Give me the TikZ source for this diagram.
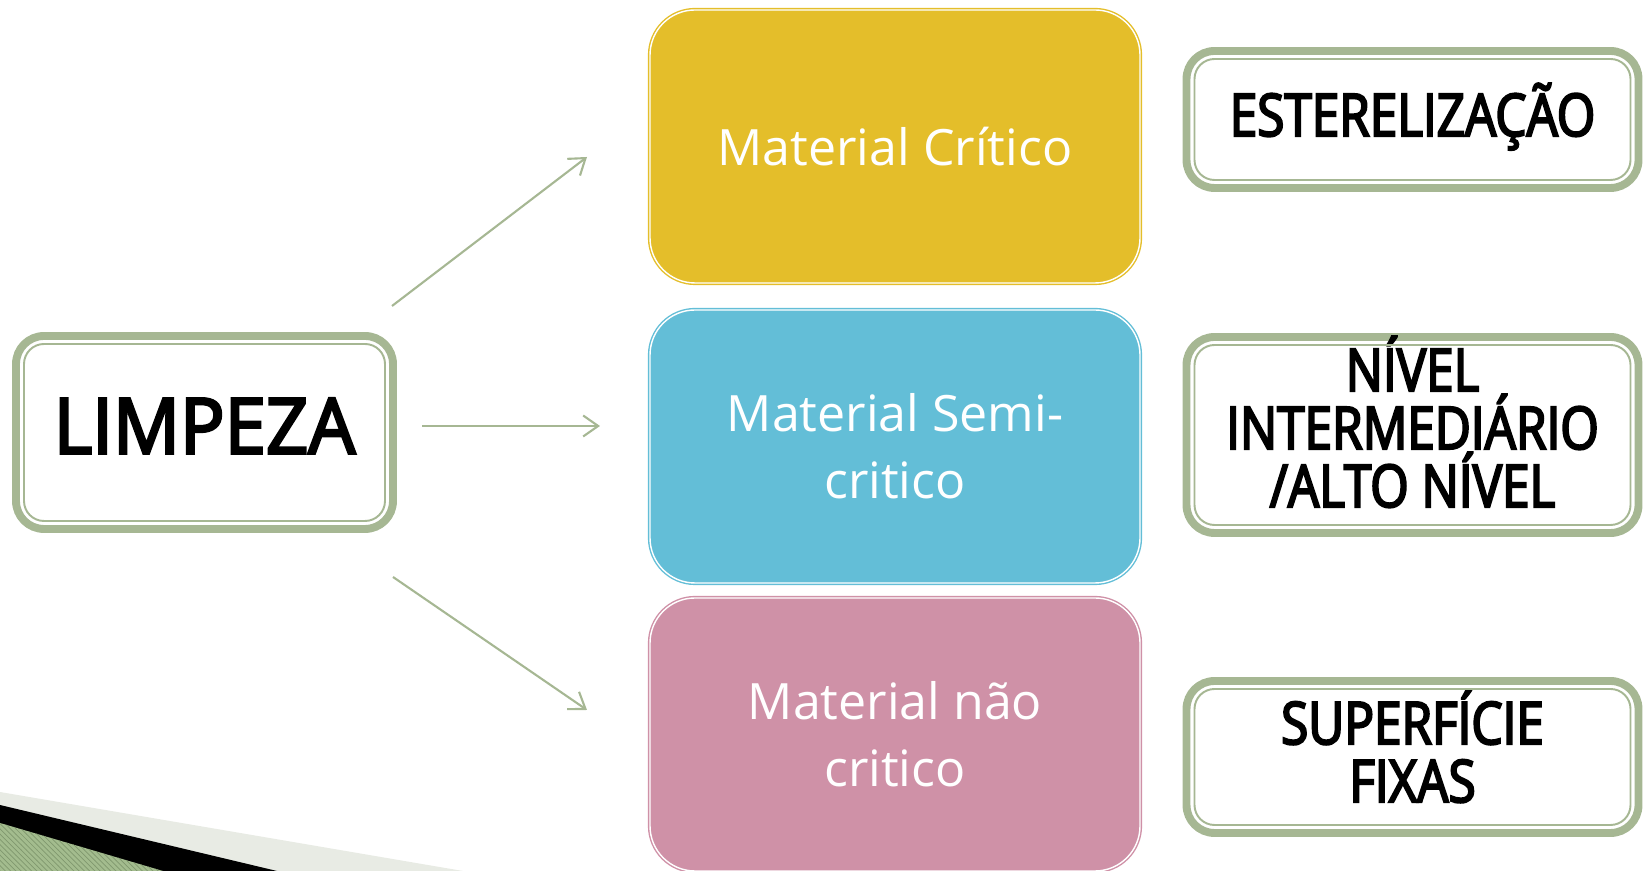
\documentclass[tikz,border=0pt]{standalone}
\usepackage{fontspec}
\usepackage{tikz}
\usetikzlibrary{calc}
\usetikzlibrary{arrows.meta}
\usetikzlibrary{patterns}

\setmainfont{Open Sans}
\newfontfamily\limpfont[FakeStretch=0.96, FakeBold=3.5]{Open Sans}
\newfontfamily\rotfont[FakeStretch=0.84, FakeBold=3.5]{Open Sans}

% linhas centradas com a linha de base da ultima fixa
\newcommand{\linhas}[2]{\raisebox{#1}[0pt][0pt]{\vbox{\baselineskip=33pt\lineskiplimit=-100pt\halign{\hfil##\hfil\cr#2\cr}}}}

\definecolor{salvia}{RGB}{166,183,147}
\definecolor{amarelo}{RGB}{228,190,42}
\definecolor{azul}{RGB}{99,190,215}
\definecolor{rosa}{RGB}{207,145,167}
\definecolor{faixa}{RGB}{232,235,228}
\definecolor{verdeclaro}{RGB}{163,188,142}
\definecolor{verdeescuro}{RGB}{128,152,110}

\begin{document}
\begin{tikzpicture}[
	caixa/.style= {rounded corners= 0.9cm, line width= 0.8pt, double= white, double distance= 0.8pt, minimum width= 9.8cm, minimum height= 5.46cm, inner sep= 0pt, text= white, align= center, font= \fontsize{28.5}{38}\selectfont},
	moldura/.style= {rounded corners= 0.56cm, draw= salvia, line width= 4.5pt, fill= white, inner sep= 0pt, outer sep= 0pt, align= center, minimum width= 9.04cm},
	filete/.style= {rounded corners= 0.4cm, draw= salvia, line width= 1.1pt},
	seta/.style= {draw= salvia, line width= 1.2pt, -{Straight Barb[length= 0.3cm, width= 0.42cm]}}
]
	\useasboundingbox (0,0) rectangle (33,17.42);

	% faixas no canto inferior
	\fill [faixa] (0,0) -- (0,1.58) -- (9.26,0) -- cycle;
	\fill [black] (0,0) -- (0,1.32) -- (5.54,0) -- cycle;
	\fill [verdeclaro] (0,0) -- (0,0.96) -- (3.26,0) -- cycle;
	\fill [pattern= north west lines, pattern color= verdeescuro] (0,0) -- (0,0.96) -- (3.26,0) -- cycle;

	% caixa da esquerda
	\node [moldura, minimum width= 7.54cm, minimum height= 3.86cm, font= \limpfont\fontsize{44}{50}\selectfont] (limpeza) at (4.09,8.77) {\raisebox{-12pt}[0pt][0pt]{LIMPEZA}};

	% caixas coloridas
	\node [caixa, draw= amarelo, fill= amarelo] (critico) at (17.9,14.49) {Material Crítico};
	\node [caixa, draw= azul, fill= azul] (semi) at (17.9,8.49) {Material Semi-\\critico};
	\node [caixa, draw= rosa, fill= rosa] (naocritico) at (17.9,2.73) {Material não\\critico};

	% caixas da direita
	\node [moldura, minimum height= 2.74cm, font= \rotfont\fontsize{33.5}{33}\selectfont] (esterel) at (28.25,15.03) {\raisebox{-9.4pt}[0pt][0pt]{ESTERELIZAÇÃO}};
	\node [moldura, minimum height= 3.92cm, font= \rotfont\fontsize{33.5}{33}\selectfont] (nivel) at (28.25,8.72) {\linhas{-41pt}{NÍVEL\cr INTERMEDIÁRIO\cr /ALTO NÍVEL}};
	\node [moldura, minimum height= 3.04cm, font= \rotfont\fontsize{33.5}{33}\selectfont] (superf) at (28.25,2.28) {\linhas{-25.7pt}{SUPERFÍCIE\cr FIXAS}};

	% filete interno das molduras
	\foreach \n in {limpeza,esterel,nivel,superf}
		\draw [filete] ([shift={(0.16,0.16)}]\n.south west) rectangle ([shift={(-0.16,-0.16)}]\n.north east);

	% setas
	\coordinate (s1) at (7.84,11.3);
	\coordinate (e1) at (11.74,14.28);
	\coordinate (s2) at (8.44,8.9);
	\coordinate (e2) at (12.0,8.9);
	\coordinate (s3) at (7.86,5.88);
	\coordinate (e3) at (11.74,3.22);
	\draw [seta] (s1) -- (e1);
	\draw [seta] (s2) -- (e2);
	\draw [seta] (s3) -- (e3);
\end{tikzpicture}
\end{document}
